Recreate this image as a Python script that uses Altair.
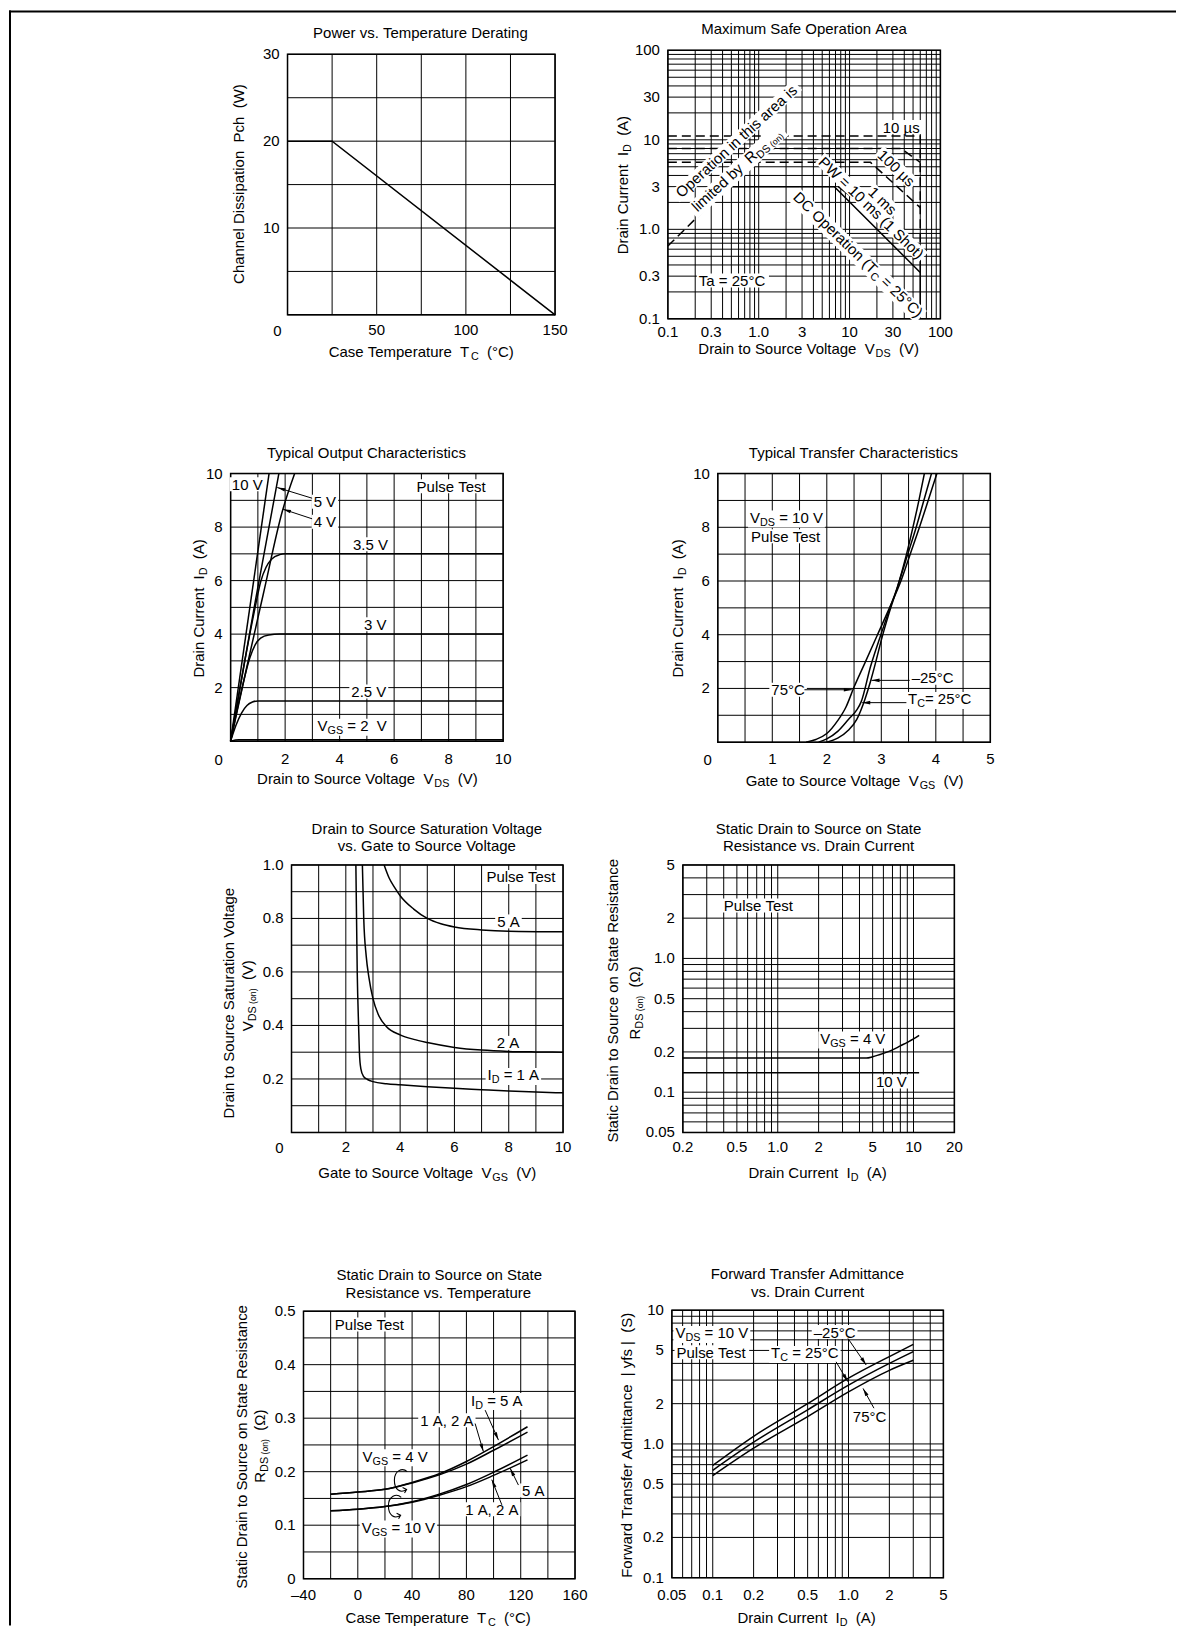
import altair as alt
import pandas as pd

FONT = "Liberation Sans"
FS = 15

# ---------------- Panel 1: Power vs. Temperature Derating ----------------
P1_TC = [0, 25, 150]
P1_PCH = [20, 20, 0]
P1_XGRID = [0, 25, 50, 75, 100, 125, 150]
P1_YGRID = [0, 5, 10, 15, 20, 25, 30]
P1_XLAB, P1_XTXT = [50, 100, 150], ["50", "100", "150"]
P1_YLAB, P1_YTXT = [10, 20, 30], ["10", "20", "30"]

# ---------------- Panel 2: Maximum Safe Operation Area ----------------
P2_GRID = [0.1, 0.2, 0.3, 0.4, 0.5, 0.6, 0.7, 0.8, 0.9, 1, 2, 3, 4, 5, 6, 7, 8, 9,
           10, 20, 30, 40, 50, 60, 70, 80, 90, 100]
P2_LAB = [0.1, 0.3, 1, 3, 10, 30, 100]
P2_TXT = ["0.1", "0.3", "1.0", "3", "10", "30", "100"]
P2_DC_V, P2_DC_I = [0.47, 6.8, 60, 60], [3, 3, 0.33, 0.1]
P2_PW_V, P2_PW_I = [7.5, 60, 60], [3, 0.6, 0.33]
P2_RDS_V, P2_RDS_I = [0.1, 1.6], [0.65, 10.5]
P2_10US_V, P2_10US_I = [0.1, 60, 60], [11, 11, 0.6]
P2_100US_V, P2_100US_I = [0.1, 37, 60], [8, 8, 5.6]
P2_1MS_V, P2_1MS_I = [0.1, 17, 60], [5.6, 5.6, 1.75]

# ---------------- Panel 3: Typical Output Characteristics ----------------
P3_GRID = [0, 1, 2, 3, 4, 5, 6, 7, 8, 9, 10]
P3_LAB, P3_TXT = [2, 4, 6, 8, 10], ["2", "4", "6", "8", "10"]
P3_10V_V, P3_10V_I = [0, 1.41], [0, 10]
P3_5V_V, P3_5V_I = [0, 0.9, 1.77], [0, 5.2, 10]
P3_4V_V, P3_4V_I = [0, 0.6, 1.2, 1.9, 2.35], [0, 2.8, 5.5, 8.6, 10]
P3_35V_V = [0, 0.5, 0.9, 1.1, 1.3, 1.5, 1.8, 2.0, 10]
P3_35V_I = [0, 2.9, 5.0, 5.95, 6.5, 6.8, 6.97, 7.0, 7.0]
P3_3V_V = [0, 0.4, 0.7, 0.9, 1.1, 1.4, 1.8, 10]
P3_3V_I = [0, 1.9, 3.1, 3.6, 3.85, 3.97, 4.0, 4.0]
P3_25V_V = [0, 0.2, 0.4, 0.6, 0.8, 1.0, 10]
P3_25V_I = [0, 0.6, 1.05, 1.33, 1.46, 1.5, 1.5]
P3_2V_V, P3_2V_I = [0, 0.3, 10], [0, 0.05, 0.05]

# ---------------- Panel 4: Typical Transfer Characteristics ----------------
P4_XGRID = [0, 0.5, 1, 1.5, 2, 2.5, 3, 3.5, 4, 4.5, 5]
P4_XLAB, P4_XTXT = [1, 2, 3, 4, 5], ["1", "2", "3", "4", "5"]
P4_75_V = [1.62, 1.8, 2.0, 2.2, 2.35, 2.5, 2.7, 2.93, 3.15, 3.36, 3.53, 3.70, 3.86, 4.02]
P4_75_I = [0, 0.1, 0.32, 0.8, 1.3, 2.05, 2.95, 4.0, 5.0, 6.0, 7.0, 8.0, 9.0, 10.0]
P4_25_V = [1.85, 2.0, 2.2, 2.4, 2.55, 2.63, 2.8, 3.0, 3.15, 3.3, 3.47, 3.64, 3.78, 3.92]
P4_25_I = [0, 0.12, 0.4, 0.85, 1.2, 1.5, 2.8, 4.05, 4.95, 5.8, 6.9, 8.0, 9.0, 10.0]
P4_M25_V = [2.0, 2.2, 2.4, 2.55, 2.7, 2.8, 2.9, 3.0, 3.15, 3.3, 3.45, 3.58, 3.69, 3.79]
P4_M25_I = [0, 0.15, 0.45, 0.85, 1.6, 2.25, 3.0, 3.8, 4.85, 5.8, 6.9, 8.0, 9.0, 10.0]

# ---------------- Panel 5: Saturation voltage ----------------
P5_YGRID = [0, 0.1, 0.2, 0.3, 0.4, 0.5, 0.6, 0.7, 0.8, 0.9, 1.0]
P5_YLAB, P5_YTXT = [0.2, 0.4, 0.6, 0.8, 1.0], ["0.2", "0.4", "0.6", "0.8", "1.0"]
P5_1A_V = [2.37, 2.42, 2.47, 2.5, 2.55, 2.65, 2.8, 3.0, 3.5, 4, 5, 6, 7, 8, 9, 10]
P5_1A_S = [1.0, 0.6, 0.4, 0.3, 0.24, 0.21, 0.198, 0.19, 0.182, 0.178, 0.171, 0.165, 0.16,
           0.155, 0.151, 0.148]
P5_2A_V = [2.61, 2.66, 2.75, 2.85, 3.0, 3.2, 3.5, 4.0, 4.5, 5.0, 6.0, 7.0, 8.0, 9.0, 10]
P5_2A_S = [1.0, 0.8, 0.66, 0.58, 0.5, 0.44, 0.395, 0.365, 0.348, 0.336, 0.318, 0.308, 0.303,
           0.301, 0.30]
P5_5A_V = [3.41, 3.6, 3.8, 4.0, 4.5, 5.0, 5.5, 6.0, 7.0, 8.0, 10]
P5_5A_S = [1.0, 0.95, 0.915, 0.885, 0.835, 0.8, 0.78, 0.768, 0.757, 0.752, 0.75]

# ---------------- Panel 6: RDS(on) vs drain current ----------------
P6_XGRID = [0.2, 0.3, 0.4, 0.5, 0.6, 0.7, 0.8, 0.9, 1, 2, 3, 4, 5, 6, 7, 8, 9, 10, 20]
P6_YGRID = [0.05, 0.06, 0.07, 0.08, 0.09, 0.1, 0.2, 0.3, 0.4, 0.5, 0.6, 0.7, 0.8, 0.9,
            1, 2, 3, 4, 5]
P6_XLAB, P6_XTXT = [0.2, 0.5, 1, 2, 5, 10, 20], ["0.2", "0.5", "1.0", "2", "5", "10", "20"]
P6_YLAB, P6_YTXT = [0.05, 0.1, 0.2, 0.5, 1, 2, 5], ["0.05", "0.1", "0.2", "0.5", "1.0", "2", "5"]
P6_4V_I = [0.2, 4.5, 5, 6, 7, 8, 9, 10, 11]
P6_4V_R = [0.18, 0.18, 0.184, 0.195, 0.207, 0.222, 0.236, 0.25, 0.266]
P6_10V_I, P6_10V_R = [0.2, 11], [0.14, 0.14]

# ---------------- Panel 7: RDS(on) vs temperature ----------------
P7_XGRID = [-40, -20, 0, 20, 40, 60, 80, 100, 120, 140, 160]
P7_XLAB, P7_XTXT = [-40, 0, 40, 80, 120, 160], ["–40", "0", "40", "80", "120", "160"]
P7_YGRID = [0, 0.05, 0.1, 0.15, 0.2, 0.25, 0.3, 0.35, 0.4, 0.45, 0.5]
P7_YLAB, P7_YTXT = [0, 0.1, 0.2, 0.3, 0.4, 0.5], ["0", "0.1", "0.2", "0.3", "0.4", "0.5"]
P7_T = [-20, 0, 20, 40, 60, 80, 100, 125]
P7_4V_5A = [0.158, 0.162, 0.167, 0.180, 0.196, 0.219, 0.247, 0.284]
P7_4V_12A = [0.158, 0.162, 0.167, 0.179, 0.194, 0.214, 0.240, 0.274]
P7_10V_5A = [0.127, 0.130, 0.135, 0.144, 0.158, 0.176, 0.199, 0.231]
P7_10V_12A = [0.127, 0.130, 0.135, 0.143, 0.156, 0.172, 0.193, 0.222]

# ---------------- Panel 8: |yfs| vs drain current ----------------
P8_XGRID = [0.05, 0.06, 0.07, 0.08, 0.09, 0.1, 0.2, 0.3, 0.4, 0.5, 0.6, 0.7, 0.8, 0.9,
            1, 2, 3, 4, 5]
P8_YGRID = [0.1, 0.2, 0.3, 0.4, 0.5, 0.6, 0.7, 0.8, 0.9, 1, 2, 3, 4, 5, 6, 7, 8, 9, 10]
P8_XLAB, P8_XTXT = [0.05, 0.1, 0.2, 0.5, 1, 2, 5], ["0.05", "0.1", "0.2", "0.5", "1.0", "2", "5"]
P8_YLAB, P8_YTXT = [0.1, 0.2, 0.5, 1, 2, 5, 10], ["0.1", "0.2", "0.5", "1.0", "2", "5", "10"]
P8_ID = [0.1, 0.2, 0.5, 1.0, 2.0, 3.0]
P8_M25 = [0.69, 1.14, 2.0, 3.1, 4.5, 5.55]
P8_25 = [0.635, 1.03, 1.8, 2.75, 4.0, 4.9]
P8_75 = [0.58, 0.93, 1.6, 2.45, 3.55, 4.22]

# ---------------- helpers ----------------
CW = {" ": 278, "\u00a0": 278, "!": 278, "(": 333, ")": 333, ",": 278, "-": 333, ".": 278,
      "=": 584, "|": 260, "°": 400, "µ": 576, "Ω": 768, "–": 556}
CW.update({c: 556 for c in "0123456789"})
CW.update(dict(zip("ABCDEFGHIJKLMNOPQRSTUVWXYZ",
                   [667, 667, 722, 722, 667, 611, 778, 722, 278, 500, 667, 556, 833, 722, 778,
                    667, 778, 722, 667, 611, 722, 667, 944, 667, 667, 611])))
CW.update(dict(zip("abcdefghijklmnopqrstuvwxyz",
                   [556, 556, 500, 556, 556, 278, 556, 556, 222, 222, 500, 222, 833, 556, 556,
                    556, 556, 333, 500, 278, 556, 500, 722, 500, 500, 500])))

DUMMY = pd.DataFrame({"d": [0]})
ARROW = "M0,0 L0.38,1.7 L-0.38,1.7 Z"
LOOP = ("M0.5,-0.75 C0.1,-1.1 -0.55,-0.85 -0.55,-0.05 C-0.55,0.75 -0.05,1.05 0.45,0.72 "
        "M0.12,0.55 L0.45,0.72 L0.28,1.0")


def tw(s, size):
    return sum(CW.get(c, 556) for c in s) * size / 1000.0


def rich(segs, x=None, y=None, px=None, py=None, xs=None, ys=None, angle=0, size=FS,
         halo=True, pad=2):
    if isinstance(segs, str):
        segs = [(segs, "n")]
    pcs = []
    for t, k in segs:
        if k == "n":
            sz, dy = size, 0
        elif k == "s":
            sz, dy = round(size * 0.72, 1), 5
        else:
            sz, dy = round(size * 0.58, 1), 5
        pcs.append((t, sz, dy, tw(t, sz)))
    total = sum(p[3] for p in pcs)
    has_sub = any(k != "n" for _, k in segs)
    if px is None:
        src = pd.DataFrame({"x": [x], "y": [y]})

        def pos():
            return dict(x=alt.X("x:Q", scale=xs, axis=None), y=alt.Y("y:Q", scale=ys, axis=None))
    else:
        src = DUMMY

        def pos():
            return dict(x=alt.value(px), y=alt.value(py))
    halos, texts = [], []
    if halo:
        a = round(total / 2.0 + pad, 1)
        top = -7.5
        bot = 9.5 if has_sub else 6.5
        box = "M%s,%s L%s,%s L%s,%s L%s,%s Z" % (-a, top, a, top, a, bot, -a, bot)
        halos.append(alt.Chart(src).mark_point(
            shape=box, filled=True, color="white", size=4, opacity=1, strokeWidth=0,
            angle=angle).encode(**pos()))
    off = -total / 2.0
    for t, sz, dy, wd in pcs:
        lead = len(t) - len(t.lstrip(" "))
        body = t.strip(" ")
        if body:
            txt = body.replace(" ", "\u00a0")
            kw = dict(align="left", baseline="middle", dx=round(off + tw(" " * lead, sz), 1),
                      dy=dy, fontSize=sz, font=FONT, angle=angle)
            texts.append(alt.Chart(src).mark_text(color="black", **kw).encode(
                text=alt.value(txt), **pos()))
        off += wd
    return halos, texts


def lines_df(series):
    rows = []
    for name, (xv, yv) in series.items():
        for i, (a, b) in enumerate(zip(xv, yv)):
            rows.append({"s": name, "i": i, "x": a, "y": b})
    return pd.DataFrame(rows)


def N(t):
    return (t, "n")


def S(t):
    return (t, "s")


def panel(box, xdom, ydom, xgrid, ygrid, xlab, xtxt, ylab, ytxt, xdy, title, solid,
          xtype="linear", ytype="linear", dashed=None, interp="linear", notes=(), pix=(),
          arrows=(), loops=()):
    L, T, w, h = box
    xs = alt.Scale(type=xtype, domain=xdom, range=[L, L + w], nice=False)
    ys = alt.Scale(type=ytype, domain=ydom, range=[T + h, T], nice=False)

    def ex(f="x"):
        return alt.X(f + ":Q", scale=xs, axis=None)

    def ey(f="y"):
        return alt.Y(f + ":Q", scale=ys, axis=None)

    x0, x1 = xdom
    y0, y1 = ydom
    vg = pd.DataFrame({"x": xgrid, "y0": y0, "y1": y1})
    hg = pd.DataFrame({"y": ygrid, "x0": x0, "x1": x1})
    fr = pd.DataFrame({"x0": [x0], "x1": [x1], "y0": [y0], "y1": [y1]})
    layers = [
        alt.Chart(vg).mark_rule(color="black", strokeWidth=1).encode(
            x=ex(), y=ey("y0"), y2="y1:Q"),
        alt.Chart(hg).mark_rule(color="black", strokeWidth=1).encode(
            y=ey(), x=ex("x0"), x2="x1:Q"),
        alt.Chart(fr).mark_rect(filled=False, color="black", strokeWidth=1.5).encode(
            x=ex("x0"), x2="x1:Q", y=ey("y0"), y2="y1:Q"),
        alt.Chart(lines_df(solid)).mark_line(
            color="black", strokeWidth=1.5, interpolate=interp).encode(
            x=ex(), y=ey(), detail="s:N", order="i:Q"),
    ]
    if dashed:
        layers.append(alt.Chart(lines_df(dashed)).mark_line(
            color="black", strokeWidth=1.5, strokeDash=[9, 5]).encode(
            x=ex(), y=ey(), detail="s:N", order="i:Q"))
    xl = pd.DataFrame({"x": xlab, "y": y0, "t": xtxt})
    yl = pd.DataFrame({"x": x0, "y": ylab, "t": ytxt})
    layers.append(alt.Chart(xl).mark_text(
        font=FONT, fontSize=FS, color="black", align="center", baseline="middle", dy=xdy).encode(
        x=ex(), y=ey(), text="t:N"))
    layers.append(alt.Chart(yl).mark_text(
        font=FONT, fontSize=FS, color="black", align="right", baseline="middle", dx=-8).encode(
        x=ex(), y=ey(), text="t:N"))
    halos, texts = [], []
    for n in notes:
        opts = n[3] if len(n) > 3 else {}
        hl, tx = rich(n[0], x=n[1], y=n[2], xs=xs, ys=ys, **opts)
        halos += hl
        texts += tx
    for n in pix:
        opts = n[3] if len(n) > 3 else {}
        _, tx = rich(n[0], px=L + n[1], py=T + n[2], halo=False, **opts)
        texts += tx
    tl = [title] if isinstance(title, str) else title
    base = -21 if len(tl) == 1 else -18.5
    for k, line in enumerate(tl):
        _, tx = rich(line, px=L + w / 2.0, py=T + base - 17.5 * (len(tl) - 1 - k), halo=False)
        texts += tx
    arr = []
    for (ax1, ay1, ax2, ay2, ang) in arrows:
        adf = pd.DataFrame({"x": [ax1], "y": [ay1], "x2": [ax2], "y2": [ay2]})
        arr.append(alt.Chart(adf).mark_rule(color="black", strokeWidth=1).encode(
            x=ex(), y=ey(), x2="x2:Q", y2="y2:Q"))
        hdf = pd.DataFrame({"x": [ax2], "y": [ay2]})
        arr.append(alt.Chart(hdf).mark_point(shape=ARROW, filled=True, color="black", size=90,
                                             angle=ang, opacity=1, strokeWidth=0).encode(
            x=ex(), y=ey()))
    for (lx, ly) in loops:
        ldf = pd.DataFrame({"x": [lx], "y": [ly]})
        arr.append(alt.Chart(ldf).mark_point(shape=LOOP, filled=False, color="black", size=600,
                                             opacity=1, strokeWidth=1.1).encode(x=ex(), y=ey()))
    return alt.layer(*layers, *halos, *texts, *arr)


# ---------------- panels (plot boxes: left, top, width, height in view pixels) ----------------
p1 = panel(
    (279, 44, 268, 261), [0, 150], [0, 30], P1_XGRID, P1_YGRID, P1_XLAB, P1_XTXT,
    P1_YLAB, P1_YTXT, 15, "Power vs. Temperature Derating", {"p": (P1_TC, P1_PCH)},
    pix=[([N("Case Temperature  T"), S("C"), N("  (°C)")], 134, 261 + 37),
         ("Channel Dissipation  Pch  (W)", -49, 130, {"angle": 270}),
         ("0", -10, 261 + 16)])

p2 = panel(
    (660, 40, 273, 269), [0.1, 100], [0.1, 100], P2_GRID, P2_GRID, P2_LAB, P2_TXT,
    P2_LAB, P2_TXT, 13, "Maximum Safe Operation Area",
    {"dc": (P2_DC_V, P2_DC_I), "pw": (P2_PW_V, P2_PW_I)}, xtype="log", ytype="log",
    dashed={"rds": (P2_RDS_V, P2_RDS_I), "a": (P2_10US_V, P2_10US_I),
            "b": (P2_100US_V, P2_100US_I), "c": (P2_1MS_V, P2_1MS_I)},
    notes=[("Operation in this area is", 0.57, 9.6, {"angle": 317.5, "pad": 4}),
           ([N("limited by  R"), S("DS"), (" (on)", "ss")], 0.57, 4.6,
            {"angle": 317.5, "pad": 4}),
           ("10 µs", 37, 13.7),
           ("100 µs", 32.6, 4.8, {"angle": 44}),
           ("1 ms", 23, 2.07, {"angle": 44}),
           ("PW = 10 ms (1 Shot)", 17.3, 1.73, {"angle": 44}),
           ([N("DC Operation (T"), S("C"), N(" = 25°C)")], 12.4, 0.52, {"angle": 44}),
           ("Ta = 25°C", 0.52, 0.265)],
    pix=[([N("Drain to Source Voltage  V"), S("DS"), N("  (V)")], 141, 269 + 30),
         ([N("Drain Current  I"), S("D"), N("  (A)")], -45, 135, {"angle": 270})])

p3 = panel(
    (222, 464, 273, 268), [0, 10], [0, 10], P3_GRID, P3_GRID, P3_LAB, P3_TXT,
    P3_LAB, P3_TXT, 18, "Typical Output Characteristics",
    {"10": (P3_10V_V, P3_10V_I), "5": (P3_5V_V, P3_5V_I), "4": (P3_4V_V, P3_4V_I),
     "35": (P3_35V_V, P3_35V_I), "3": (P3_3V_V, P3_3V_I), "25": (P3_25V_V, P3_25V_I),
     "2": (P3_2V_V, P3_2V_I)},
    interp="monotone",
    notes=[("10 V", 0.61, 9.58), ("5 V", 3.46, 8.93), ("4 V", 3.46, 8.18),
           ("3.5 V", 5.13, 7.34), ("3 V", 5.31, 4.35), ("2.5 V", 5.07, 1.84),
           ([N("V"), S("GS"), N(" = 2  V")], 4.46, 0.56), ("Pulse Test", 8.12, 9.51)],
    arrows=[(2.99, 9.08, 1.71, 9.48, 287), (2.99, 8.31, 1.92, 8.67, 288)],
    pix=[([N("Drain to Source Voltage  V"), S("DS"), N("  (V)")], 137, 268 + 38),
         ([N("Drain Current  I"), S("D"), N("  (A)")], -32, 135, {"angle": 270}),
         ("0", -12, 268 + 19)])

p4 = panel(
    (710, 464, 273, 269), [0, 5], [0, 10], P4_XGRID, P3_GRID, P4_XLAB, P4_XTXT,
    P3_LAB, P3_TXT, 17, "Typical Transfer Characteristics",
    {"75": (P4_75_V, P4_75_I), "25": (P4_25_V, P4_25_I), "m25": (P4_M25_V, P4_M25_I)},
    interp="monotone",
    notes=[([N("V"), S("DS"), N(" = 10 V")], 1.26, 8.35), ("Pulse Test", 1.26, 7.65),
           ("–25°C", 3.94, 2.38), ("75°C", 1.29, 1.93),
           ([N("T"), S("C"), N("= 25°C")], 4.07, 1.59)],
    arrows=[(3.52, 2.30, 2.82, 2.30, 270), (1.59, 1.95, 2.46, 1.95, 90),
            (3.46, 1.47, 2.65, 1.47, 270)],
    pix=[([N("Gate to Source Voltage  V"), S("GS"), N("  (V)")], 137, 269 + 39),
         ([N("Drain Current  I"), S("D"), N("  (A)")], -40, 135, {"angle": 270}),
         ("0", -10, 269 + 18)])

p5 = panel(
    (283, 856, 272, 268), [0, 10], [0, 1], P3_GRID, P5_YGRID, P3_LAB, P3_TXT,
    P5_YLAB, P5_YTXT, 15, ["Drain to Source Saturation Voltage", "vs. Gate to Source Voltage"],
    {"1": (P5_1A_V, P5_1A_S), "2": (P5_2A_V, P5_2A_S), "5": (P5_5A_V, P5_5A_S)},
    interp="monotone",
    notes=[("Pulse Test", 8.48, 0.953), ("5 A", 7.99, 0.787), ("2 A", 7.97, 0.333),
           ([N("I"), S("D"), N(" = 1 A")], 8.17, 0.213)],
    pix=[([N("Gate to Source Voltage  V"), S("GS"), N("  (V)")], 136, 268 + 41),
         ("Drain to Source Saturation Voltage", -63, 138, {"angle": 270}),
         ([N("V"), S("DS"), (" (on)", "ss"), N("  (V)")], -44, 131, {"angle": 270}),
         ("0", -12, 268 + 16)])

p6 = panel(
    (675, 856, 272, 268), [0.2, 20], [0.05, 5], P6_XGRID, P6_YGRID, P6_XLAB, P6_XTXT,
    P6_YLAB, P6_YTXT, 15, ["Static Drain to Source on State", "Resistance vs. Drain Current"],
    {"4": (P6_4V_I, P6_4V_R), "10": (P6_10V_I, P6_10V_R)}, xtype="log", ytype="log",
    interp="monotone",
    notes=[("Pulse Test", 0.73, 2.47), ([N("V"), S("GS"), N(" = 4 V")], 3.57, 0.25),
           ("10 V", 6.86, 0.119)],
    pix=[([N("Drain Current  I"), S("D"), N("  (A)")], 135, 268 + 41),
         ("Static Drain to Source on State Resistance", -70, 136, {"angle": 270}),
         ([N("R"), S("DS"), (" (on)", "ss"), N("  (Ω)")], -48, 138, {"angle": 270})])

p7 = panel(
    (295, 1303, 272, 268), [-40, 160], [0, 0.5], P7_XGRID, P7_YGRID, P7_XLAB, P7_XTXT,
    P7_YLAB, P7_YTXT, 16, ["Static Drain to Source on State", "Resistance vs. Temperature"],
    {"a": (P7_T, P7_4V_5A), "b": (P7_T, P7_4V_12A), "c": (P7_T, P7_10V_5A),
     "d": (P7_T, P7_10V_12A)},
    interp="monotone",
    notes=[("Pulse Test", 9.1, 0.474), ([N("I"), S("D"), N(" = 5 A")], 102.4, 0.333),
           ("1 A, 2 A", 65.6, 0.295), ([N("V"), S("GS"), N(" = 4 V")], 27.5, 0.228),
           ([N("V"), S("GS"), N(" = 10 V")], 29.9, 0.0946), ("5 A", 129.3, 0.164),
           ("1 A, 2 A", 98.7, 0.129)],
    arrows=[(93.8, 0.315, 103.6, 0.259, 156), (86.4, 0.290, 92.5, 0.2375, 163),
            (118.3, 0.175, 112.2, 0.2065, 334), (106.1, 0.138, 98.7, 0.185, 338)],
    loops=[(31.9, 0.183), (27.5, 0.135)],
    pix=[([N("Case Temperature  T"), S("C"), N("  (°C)")], 135, 268 + 39),
         ("Static Drain to Source on State Resistance", -62, 136, {"angle": 270}),
         ([N("R"), S("DS"), (" (on)", "ss"), N("  (Ω)")], -44, 135, {"angle": 270})])

p8 = panel(
    (664, 1302, 272, 268), [0.05, 5], [0.1, 10], P8_XGRID, P8_YGRID, P8_XLAB, P8_XTXT,
    P8_YLAB, P8_YTXT, 17, ["Forward Transfer Admittance", "vs. Drain Current"],
    {"m25": (P8_ID, P8_M25), "25": (P8_ID, P8_25), "75": (P8_ID, P8_75)},
    xtype="log", ytype="log", interp="monotone",
    notes=[([N("V"), S("DS"), N(" = 10 V")], 0.0985, 6.7), ("Pulse Test", 0.0985, 4.8),
           ("–25°C", 0.79, 6.8), ([N("T"), S("C"), N(" = 25°C")], 0.477, 4.75),
           ("75°C", 1.43, 1.6)],
    arrows=[(0.99, 6.15, 1.35, 3.89, 146), (0.81, 4.11, 0.99, 2.92, 149),
            (1.54, 1.85, 1.28, 2.6, 331)],
    pix=[([N("Drain Current  I"), S("D"), N("  (A)")], 135, 268 + 40),
         ("Forward Transfer Admittance  | yfs |  (S)", -45, 135, {"angle": 270})])

VW, VH = 1169, 1618
border_top = alt.Chart(DUMMY).mark_rule(color="black", strokeWidth=2).encode(
    x=alt.value(0), x2=alt.value(VW), y=alt.value(1))
border_left = alt.Chart(DUMMY).mark_rule(color="black", strokeWidth=2).encode(
    x=alt.value(1), y=alt.value(0), y2=alt.value(VH))

chart = alt.layer(border_top, border_left, p1, p2, p3, p4, p5, p6, p7, p8).resolve_scale(
    x="independent", y="independent").properties(
    width=VW, height=VH, padding=0).configure_view(stroke="transparent")

chart.save("out.html", embed_options={"renderer": "svg", "actions": False})
